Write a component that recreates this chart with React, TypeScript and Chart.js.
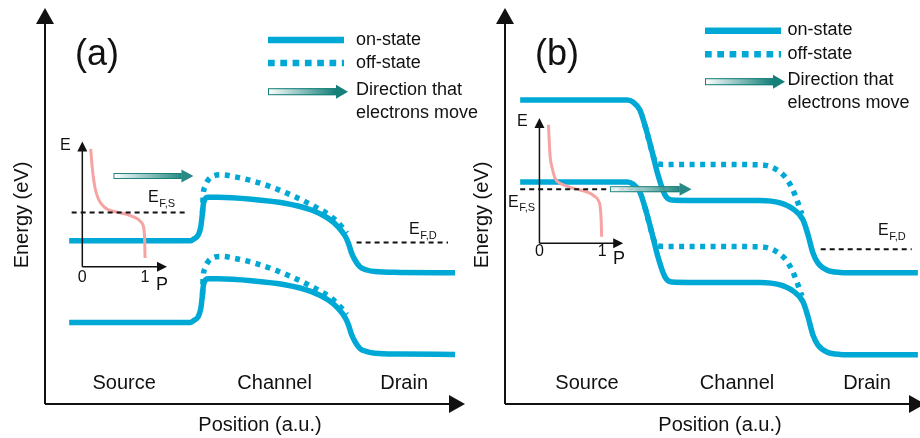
import { useEffect, useRef } from 'react';
import { Chart, registerables } from 'chart.js';

Chart.register(...registerables);

type Pt = [number, number];

const FONT = '"Liberation Sans", Arial, Helvetica, sans-serif';
const BAND_BLUE = '#00A9D5';
const FERMI_PINK = '#F6A3A3';
const FLOW_TEAL = '#157F79';
const INK = '#111111';
const CANVAS_W = 500;
const CANVAS_H = 438;

// Text
const REGIONS = ['Source', 'Channel', 'Drain'];
const ENERGY_TITLE = 'Energy (eV)';
const POSITION_TITLE = 'Position (a.u.)';
const LEGEND_TEXT = ['on-state', 'off-state', 'Direction that', 'electrons move'];

// ---------- Panel (a): x = position (a.u.), y = energy (eV) ----------
const A_UPPER_ON: Pt[] = [
  [0.59, 4.08], [2.0, 4.08], [3.54, 4.08], [3.62, 4.12], [3.74, 4.23], [3.8, 4.43],
  [3.84, 4.77], [3.86, 4.98], [3.9, 5.12], [3.98, 5.17], [4.23, 5.17], [5.04, 5.12],
  [5.85, 5.02], [6.5, 4.85], [6.91, 4.64], [7.15, 4.43], [7.32, 4.2], [7.4, 4.02],
  [7.48, 3.77], [7.56, 3.6], [7.68, 3.43], [7.85, 3.35], [8.05, 3.31], [8.66, 3.29], [10, 3.28],
];
const A_LOWER_ON: Pt[] = [
  [0.59, 2.04], [2.0, 2.04], [3.54, 2.04], [3.62, 2.08], [3.74, 2.19], [3.8, 2.39],
  [3.84, 2.73], [3.86, 2.94], [3.9, 3.08], [3.98, 3.13], [4.23, 3.13], [5.04, 3.08],
  [5.85, 2.98], [6.5, 2.81], [6.91, 2.6], [7.15, 2.39], [7.32, 2.16], [7.4, 1.98],
  [7.48, 1.73], [7.56, 1.56], [7.68, 1.39], [7.85, 1.31], [8.05, 1.27], [8.66, 1.25], [10, 1.24],
];
const A_UPPER_OFF: Pt[] = [
  [3.84, 4.77], [3.86, 5.23], [3.9, 5.43], [3.98, 5.6], [4.1, 5.7], [4.31, 5.73],
  [4.63, 5.68], [5.12, 5.56], [5.61, 5.39], [6.1, 5.18], [6.59, 4.93], [6.99, 4.68],
  [7.24, 4.43], [7.36, 4.27],
];
const A_LOWER_OFF: Pt[] = [
  [3.84, 2.73], [3.86, 3.19], [3.9, 3.39], [3.98, 3.56], [4.1, 3.66], [4.31, 3.69],
  [4.63, 3.64], [5.12, 3.52], [5.61, 3.35], [6.1, 3.14], [6.59, 2.89], [6.99, 2.64],
  [7.24, 2.39], [7.36, 2.23],
];
// occupation probability P (x) against energy (y) in the source
const A_OCCUPANCY: Pt[] = [
  [0.134, 6.38], [0.147, 6.1], [0.171, 5.73], [0.203, 5.4], [0.25, 5.15], [0.314, 4.98],
  [0.41, 4.86], [0.569, 4.79], [0.729, 4.73], [0.856, 4.65], [0.936, 4.55], [0.984, 4.35],
  [0.994, 4.1], [1.0, 3.65],
];
const A_FERMI_SOURCE: Pt[] = [[0.65, 4.79], [3.41, 4.79]];
const A_FERMI_DRAIN: Pt[] = [[7.6, 4.04], [9.83, 4.04]];
const A_FLOW: Pt[] = [[1.67, 5.7], [3.62, 5.7]];
const A_REGION_X = [1.93, 5.6, 8.76];

// ---------- Panel (b) ----------
const B_UPPER_ON: Pt[] = [
  [0.37, 7.6], [2.32, 7.6], [2.98, 7.6], [3.12, 7.55], [3.29, 7.35], [3.41, 6.98],
  [3.59, 6.3], [3.73, 5.73], [3.9, 5.23], [4.07, 5.1], [4.51, 5.09], [6.22, 5.09],
  [6.71, 5.03], [7.02, 4.88], [7.27, 4.6], [7.39, 4.23], [7.51, 3.78], [7.63, 3.53],
  [7.85, 3.35], [8.17, 3.29], [8.66, 3.28], [10.07, 3.28],
];
const B_LOWER_ON: Pt[] = [
  [0.37, 5.55], [2.32, 5.55], [2.98, 5.55], [3.12, 5.5], [3.29, 5.3], [3.41, 4.93],
  [3.59, 4.25], [3.73, 3.68], [3.9, 3.18], [4.07, 3.05], [4.51, 3.04], [6.22, 3.04],
  [6.71, 2.98], [7.02, 2.83], [7.27, 2.55], [7.39, 2.18], [7.51, 1.73], [7.63, 1.48],
  [7.85, 1.3], [8.17, 1.24], [8.66, 1.23], [10.07, 1.23],
];
const B_UPPER_OFF: Pt[] = [
  [3.41, 6.98], [3.54, 6.48], [3.63, 6.15], [3.73, 6.0], [3.9, 5.99], [4.76, 5.99],
  [6.22, 5.98], [6.59, 5.88], [6.83, 5.68], [7.0, 5.4], [7.12, 5.1], [7.24, 4.75],
];
const B_LOWER_OFF: Pt[] = [
  [3.41, 4.93], [3.54, 4.43], [3.63, 4.1], [3.73, 3.95], [3.9, 3.94], [4.76, 3.94],
  [6.22, 3.93], [6.59, 3.83], [6.83, 3.63], [7.0, 3.35], [7.12, 3.05], [7.24, 2.7],
];
const B_OCCUPANCY: Pt[] = [
  [0.144, 6.98], [0.155, 6.6], [0.171, 6.18], [0.203, 5.9], [0.25, 5.64], [0.314, 5.53],
  [0.383, 5.48], [0.522, 5.4], [0.649, 5.35], [0.777, 5.29], [0.872, 5.2], [0.936, 5.1],
  [0.968, 4.93], [0.984, 4.6], [0.992, 4.18],
];
const B_FERMI_SOURCE: Pt[] = [[0.37, 5.37], [3.12, 5.37]];
const B_FERMI_DRAIN: Pt[] = [[7.7, 3.87], [9.92, 3.87]];
const B_FLOW: Pt[] = [[2.56, 5.37], [4.55, 5.37]];
const B_REGION_X = [2.0, 5.66, 8.83];

// scale ranges
const X_MAX = 10;
const Y_MAX = 9.9;
const P_UNIT = 1.53; // one unit of occupation probability, in position units
const REGION_Y = 0.52;

type Inset = { p0: number; eBottom: number; eTop: number; pTip: number; labelDy: number };
type Legend = { x0: number; x1: number; yOn: number; yOff: number; yFlow: number; flowTip: number; textX: number; textY: number[] };
type FermiLabel = { x: number; y: number; sub: string };

type PanelSpec = {
  tag: string;
  upperOn: Pt[]; lowerOn: Pt[]; upperOff: Pt[]; lowerOff: Pt[];
  occupancy: Pt[]; fermiSource: Pt[]; fermiDrain: Pt[];
  flow: Pt[]; regionX: number[];
  inset: Inset; legend: Legend; fermiLabels: FermiLabel[];
};

const PANEL_A: PanelSpec = {
  tag: '(a)',
  upperOn: A_UPPER_ON, lowerOn: A_LOWER_ON, upperOff: A_UPPER_OFF, lowerOff: A_LOWER_OFF,
  occupancy: A_OCCUPANCY, fermiSource: A_FERMI_SOURCE, fermiDrain: A_FERMI_DRAIN,
  flow: A_FLOW, regionX: A_REGION_X,
  inset: { p0: 0.91, eBottom: 3.43, eTop: 6.56, pTip: 1.35, labelDy: 11 },
  legend: { x0: 268, x1: 344, yOn: 40, yOff: 63, yFlow: 91.7, flowTip: 348, textX: 356, textY: [40, 62.7, 90, 113.3] },
  fermiLabels: [
    { x: 148, y: 198, sub: 'F,S' },
    { x: 409, y: 230, sub: 'F,D' },
  ],
};

const PANEL_B: PanelSpec = {
  tag: '(b)',
  upperOn: B_UPPER_ON, lowerOn: B_LOWER_ON, upperOff: B_UPPER_OFF, lowerOff: B_LOWER_OFF,
  occupancy: B_OCCUPANCY, fermiSource: B_FERMI_SOURCE, fermiDrain: B_FERMI_DRAIN,
  flow: B_FLOW, regionX: B_REGION_X,
  inset: { p0: 0.84, eBottom: 4.02, eTop: 7.15, pTip: 1.335, labelDy: 8.5 },
  legend: { x0: 245, x1: 321, yOn: 30.7, yOff: 54.3, yFlow: 81.7, flowTip: 325, textX: 327.5, textY: [30, 54, 80, 103] },
  fermiLabels: [
    { x: 48, y: 202.5, sub: 'F,S' },
    { x: 418, y: 231, sub: 'F,D' },
  ],
};

const toXY = (pts: Pt[]) => pts.map(([x, y]) => ({ x, y }));

function label(ctx: CanvasRenderingContext2D, s: string, x: number, y: number, size: number, align: CanvasTextAlign = 'center') {
  ctx.font = `${size}px ${FONT}`;
  ctx.textAlign = align;
  ctx.textBaseline = 'middle';
  ctx.fillStyle = INK;
  ctx.fillText(s, x, y);
}

function head(ctx: CanvasRenderingContext2D, tipX: number, tipY: number, dir: 'up' | 'right', len: number, half: number) {
  ctx.beginPath();
  if (dir === 'up') {
    ctx.moveTo(tipX, tipY);
    ctx.lineTo(tipX - half, tipY + len);
    ctx.lineTo(tipX + half, tipY + len);
  } else {
    ctx.moveTo(tipX, tipY);
    ctx.lineTo(tipX - len, tipY - half);
    ctx.lineTo(tipX - len, tipY + half);
  }
  ctx.closePath();
  ctx.fill();
}

function segment(ctx: CanvasRenderingContext2D, x0: number, y0: number, x1: number, y1: number) {
  ctx.beginPath();
  ctx.moveTo(x0, y0);
  ctx.lineTo(x1, y1);
  ctx.stroke();
}

// shaded arrow showing the direction electrons move
function flowArrow(ctx: CanvasRenderingContext2D, x0: number, tip: number, y: number, body: number, len: number, half: number) {
  const xb = tip - len;
  const g = ctx.createLinearGradient(x0, 0, xb, 0);
  g.addColorStop(0, '#ffffff');
  g.addColorStop(1, FLOW_TEAL);
  ctx.fillStyle = g;
  ctx.fillRect(x0, y - body / 2, xb - x0, body);
  ctx.strokeStyle = FLOW_TEAL;
  ctx.lineWidth = 1;
  ctx.setLineDash([]);
  ctx.strokeRect(x0 + 0.5, y - body / 2 + 0.5, xb - x0 - 1, body - 1);
  ctx.fillStyle = FLOW_TEAL;
  head(ctx, tip, y, 'right', len, half);
}

function decorPlugin(p: PanelSpec) {
  return {
    id: 'bandDecor',
    afterDatasetsDraw(chart: any) {
      const { ctx, chartArea: ca, scales } = chart;
      const xs = scales.x;
      const ys = scales.y;
      const ps = scales.p;
      ctx.save();
      ctx.setLineDash([]);

      // main axes
      ctx.strokeStyle = INK;
      ctx.fillStyle = INK;
      ctx.lineWidth = 2;
      segment(ctx, ca.left, ca.bottom, ca.left, ca.top + 14);
      head(ctx, ca.left, ca.top, 'up', 16, 9);
      segment(ctx, ca.left, ca.bottom, ca.right - 4, ca.bottom);
      head(ctx, ca.right + 10, ca.bottom, 'right', 16, 9);

      // axis titles
      ctx.save();
      ctx.translate(ca.left - 23, 215);
      ctx.rotate(-Math.PI / 2);
      label(ctx, ENERGY_TITLE, 0, 0, 20);
      ctx.restore();
      label(ctx, POSITION_TITLE, 260, ca.bottom + 21, 20);

      // panel tag
      label(ctx, p.tag, 97, 55, 36);

      // regions
      REGIONS.forEach((r, i) => {
        label(ctx, r, xs.getPixelForValue(p.regionX[i]), ys.getPixelForValue(REGION_Y), 20);
      });

      // inset axes (occupation probability vs energy)
      const ix = ps.getPixelForValue(0);
      const iyB = ys.getPixelForValue(p.inset.eBottom);
      const iyT = ys.getPixelForValue(p.inset.eTop);
      const ixR = ps.getPixelForValue(p.inset.pTip);
      ctx.strokeStyle = INK;
      ctx.fillStyle = INK;
      ctx.lineWidth = 1.5;
      segment(ctx, ix, iyB, ix, iyT + 8);
      head(ctx, ix, iyT, 'up', 10, 5);
      segment(ctx, ix, iyB, ixR - 8, iyB);
      head(ctx, ixR, iyB, 'right', 10, 5);
      label(ctx, 'E', ix - 17, iyT + 4, 16);
      label(ctx, '0', ix, iyB + p.inset.labelDy, 16);
      label(ctx, '1', ps.getPixelForValue(1), iyB + p.inset.labelDy, 16);
      label(ctx, 'P', ps.getPixelForValue(1.27), iyB + p.inset.labelDy + 7, 18);

      // Fermi level labels
      p.fermiLabels.forEach((f) => {
        label(ctx, 'E', f.x, f.y, 16, 'left');
        ctx.font = `16px ${FONT}`;
        const w = ctx.measureText('E').width;
        label(ctx, f.sub, f.x + w + 0.5, f.y + 5.5, 11, 'left');
      });

      // electron flow
      ctx.globalAlpha = 0.92;
      flowArrow(ctx, xs.getPixelForValue(p.flow[0][0]), xs.getPixelForValue(p.flow[1][0]), ys.getPixelForValue(p.flow[0][1]), 6, 12, 6.5);
      ctx.globalAlpha = 1;

      // legend
      const L = p.legend;
      ctx.strokeStyle = BAND_BLUE;
      ctx.lineWidth = 6.5;
      ctx.lineCap = 'butt';
      segment(ctx, L.x0, L.yOn, L.x1, L.yOn);
      ctx.setLineDash([6.7, 5.6]);
      segment(ctx, L.x0, L.yOff, L.x1, L.yOff);
      ctx.setLineDash([]);
      flowArrow(ctx, L.x0, L.flowTip, L.yFlow, 7, 12, 7);
      LEGEND_TEXT.forEach((t, i) => label(ctx, t, L.textX, L.textY[i], 18, 'left'));

      ctx.restore();
    },
  };
}

function buildConfig(p: PanelSpec): any {
  const base = {
    type: 'line',
    pointRadius: 0,
    pointHoverRadius: 0,
    fill: false,
    clip: false,
    cubicInterpolationMode: 'monotone',
  };
  const fermi = { ...base, borderColor: INK, borderWidth: 2, borderDash: [5, 4], cubicInterpolationMode: 'default', tension: 0 };
  const on = { ...base, borderColor: BAND_BLUE, borderWidth: 5.5 };
  const off = { ...base, borderColor: BAND_BLUE, borderWidth: 5.5, borderDash: [5, 5.5] };
  return {
    type: 'line',
    data: {
      // first dataset is drawn on top
      datasets: [
        { ...fermi, label: 'EF,S', data: toXY(p.fermiSource) },
        { ...fermi, label: 'EF,D', data: toXY(p.fermiDrain) },
        { ...base, label: 'occupation', data: toXY(p.occupancy), xAxisID: 'p', borderColor: FERMI_PINK, borderWidth: 3 },
        { ...on, label: 'on-state upper', data: toXY(p.upperOn) },
        { ...on, label: 'on-state lower', data: toXY(p.lowerOn) },
        { ...off, label: 'off-state upper', data: toXY(p.upperOff) },
        { ...off, label: 'off-state lower', data: toXY(p.lowerOff) },
      ],
    },
    options: {
      responsive: false,
      animation: false,
      devicePixelRatio: 1,
      events: [],
      layout: { padding: { left: 45, right: CANVAS_W - 455, top: 8, bottom: CANVAS_H - 404 } },
      scales: {
        x: { type: 'linear', min: 0, max: X_MAX, display: false },
        p: { type: 'linear', axis: 'x', position: 'bottom', display: false, min: -p.inset.p0 / P_UNIT, max: (X_MAX - p.inset.p0) / P_UNIT },
        y: { type: 'linear', min: 0, max: Y_MAX, display: false },
      },
      plugins: { legend: { display: false }, tooltip: { enabled: false } },
    },
    plugins: [decorPlugin(p)],
  };
}

function BandPanel({ panel, left }: { panel: PanelSpec; left: number }) {
  const ref = useRef<HTMLCanvasElement>(null);
  useEffect(() => {
    const chart = new Chart(ref.current as HTMLCanvasElement, buildConfig(panel));
    return () => chart.destroy();
  }, [panel]);
  return (
    <canvas
      ref={ref}
      width={CANVAS_W}
      height={CANVAS_H}
      style={{ position: 'absolute', left, top: 0, width: CANVAS_W, height: CANVAS_H }}
    />
  );
}

export default function App() {
  return (
    <div style={{ position: 'fixed', left: 0, top: 0, width: 920, height: 438, overflow: 'hidden', background: '#ffffff' }}>
      <BandPanel panel={PANEL_A} left={0} />
      <BandPanel panel={PANEL_B} left={460} />
    </div>
  );
}
